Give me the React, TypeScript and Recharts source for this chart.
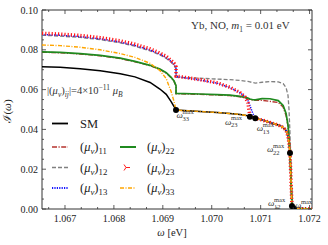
import React from "react";
import {
  ComposedChart,
  Line,
  Scatter,
  XAxis,
  YAxis,
  ReferenceArea
} from "recharts";

const SERIF = "'Liberation Serif', 'DejaVu Serif', serif";

// photon energy grid (eV); repeated entry = step at the omega_33 threshold
const OMEGA = [
  1.06653, 1.0669, 1.06731, 1.06772, 1.06813, 1.06843, 1.06874, 1.06894, 1.06907, 1.06917,
  1.06923, 1.06927, 1.06927, 1.06976, 1.07011, 1.07037, 1.07058, 1.07068, 1.07074, 1.07078,
  1.07084, 1.07089, 1.07103, 1.07119, 1.07136, 1.07146, 1.07152, 1.07156, 1.07158, 1.0716,
  1.07162, 1.07164, 1.07166, 1.07168, 1.07205
];

const SM = [
  0.0715, 0.0712, 0.0705, 0.0695, 0.068, 0.0664, 0.0636, 0.0603, 0.0576, 0.054,
  0.0515, 0.0497, 0.0497, 0.049, 0.0485, 0.048, 0.0475, 0.0471, 0.0468, 0.0464,
  0.046, 0.0456, 0.0447, 0.0435, 0.0422, 0.041, 0.0395, 0.0365, 0.033, 0.0281,
  0.015, 0.0015, 0.0008, 0.0003, 0
];
const MU11 = [
  0.0788, 0.0785, 0.0779, 0.077, 0.0756, 0.074, 0.072, 0.0701, 0.0683, 0.066,
  0.0641, 0.0618, 0.0579, 0.0576, 0.0573, 0.057, 0.0564, 0.0559, 0.0555, 0.0551,
  0.0547, 0.0546, 0.0546, 0.0541, 0.0535, 0.0512, 0.047, 0.0415, 0.0355, 0.0281,
  0.017, 0.006, 0.002, 0.0005, 0
];
const MU12 = [
  0.0873, 0.0869, 0.0862, 0.0851, 0.0835, 0.0818, 0.0795, 0.0774, 0.0757, 0.0737,
  0.0722, 0.0705, 0.0662, 0.0657, 0.0653, 0.065, 0.0646, 0.0643, 0.0641, 0.0639,
  0.0635, 0.0633, 0.0637, 0.064, 0.0639, 0.063, 0.061, 0.057, 0.05, 0.038,
  0.02, 0.003, 0.001, 0.0003, 0
];
const MU13 = [
  0.0877, 0.0873, 0.0866, 0.0855, 0.0839, 0.0822, 0.0799, 0.0778, 0.0761, 0.0741,
  0.0726, 0.0709, 0.0666, 0.0648, 0.0632, 0.061, 0.0584, 0.0566, 0.0545, 0.052,
  0.048, 0.0456, 0.0447, 0.0435, 0.0422, 0.041, 0.0395, 0.0365, 0.033, 0.0281,
  0.015, 0.0015, 0.0008, 0.0003, 0
];
const MU22 = [
  0.079, 0.0787, 0.0781, 0.0772, 0.0758, 0.0742, 0.0722, 0.0703, 0.0685, 0.0662,
  0.0643, 0.062, 0.0581, 0.0578, 0.0575, 0.0572, 0.0566, 0.0561, 0.0557, 0.0553,
  0.0549, 0.0548, 0.0555, 0.0554, 0.0545, 0.052, 0.048, 0.042, 0.036, 0.0281,
  0.015, 0.0015, 0.0008, 0.0003, 0
];
const MU23 = [
  0.0883, 0.0879, 0.0872, 0.0861, 0.0845, 0.0828, 0.0805, 0.0784, 0.0767, 0.0747,
  0.0732, 0.0715, 0.0668, 0.065, 0.0634, 0.0612, 0.0585, 0.0563, 0.0535, 0.0464,
  0.046, 0.0456, 0.0447, 0.0435, 0.0422, 0.041, 0.0395, 0.0365, 0.033, 0.0281,
  0.015, 0.0015, 0.0008, 0.0003, 0
];
const MU33 = [
  0.0824, 0.0821, 0.0813, 0.08, 0.0781, 0.0762, 0.0732, 0.0696, 0.0655, 0.059,
  0.054, 0.0497, 0.0497, 0.049, 0.0485, 0.048, 0.0475, 0.0471, 0.0468, 0.0464,
  0.046, 0.0456, 0.0447, 0.0435, 0.0422, 0.041, 0.0395, 0.0365, 0.033, 0.0281,
  0.015, 0.0015, 0.0008, 0.0003, 0
];

// thresholds omega_ij^max on the SM curve
const THRESH_NAMES = ["33", "23", "13", "22", "12", "11"];
const THRESH_W = [1.06927, 1.07078, 1.07089, 1.0716, 1.07164, 1.07168];
const THRESH_I = [0.0497, 0.0464, 0.0456, 0.0281, 0.0015, 0.0003];

const X_MAJOR = [1.067, 1.068, 1.069, 1.07, 1.071, 1.072];
const Y_MAJOR = [0, 0.02, 0.04, 0.06, 0.08, 0.1];
const X_DOMAIN = [1.06653, 1.07205];
const Y_DOMAIN = [0, 0.1];

// label offsets (px) from each threshold dot
const LABEL_OFFSET: Record<string, [number, number]> = {
  "33": [0.5, 8],
  "23": [-25, 8],
  "13": [1.5, 13],
  "22": [-23, -1],
  "12": [-24, 0],
  "11": [1, 0]
};

const rows = OMEGA.map((w, i) => ({
  w,
  sm: SM[i],
  m11: MU11[i],
  m12: MU12[i],
  m13: MU13[i],
  m22: MU22[i],
  m23: MU23[i],
  m33: MU33[i]
}));

const threshRows = THRESH_W.map((w, i) => ({ w, v: THRESH_I[i], name: THRESH_NAMES[i] }));

const xTicks: number[] = [];
for (let k = -1; k <= 15; k++) xTicks.push(1.067 + k / 3000);
const yTicks: number[] = [];
for (let k = 0; k <= 20; k++) yTicks.push(k * 0.005);

const isMajor = (v: number, list: number[]) => list.some((m) => Math.abs(m - v) < 1e-7);

const PLOT = { left: 42, right: 312, top: 10, bottom: 209 };
const AX = "#333";

const XTick = (props: any) => {
  const { x, payload } = props;
  const major = isMajor(payload.value, X_MAJOR);
  const len = major ? 4 : 2;
  return (
    <g>
      <line x1={x} x2={x} y1={PLOT.bottom} y2={PLOT.bottom - len} stroke={AX} strokeWidth={0.8} />
      <line x1={x} x2={x} y1={PLOT.top} y2={PLOT.top + len} stroke={AX} strokeWidth={0.8} />
      {major && (
        <text x={x} y={PLOT.bottom + 13} textAnchor="middle" fontSize={10} fontFamily={SERIF} fill="#222">
          {payload.value.toFixed(3)}
        </text>
      )}
    </g>
  );
};

const YTick = (props: any) => {
  const { y, payload } = props;
  const major = isMajor(payload.value, Y_MAJOR);
  const len = major ? 4 : 2;
  return (
    <g>
      <line x1={PLOT.left} x2={PLOT.left + len} y1={y} y2={y} stroke={AX} strokeWidth={0.8} />
      <line x1={PLOT.right} x2={PLOT.right - len} y1={y} y2={y} stroke={AX} strokeWidth={0.8} />
      {major && (
        <text x={PLOT.left - 4} y={y + 3.5} textAnchor="end" fontSize={10} fontFamily={SERIF} fill="#222">
          {payload.value.toFixed(2)}
        </text>
      )}
    </g>
  );
};

const ThreshDot = (props: any) => {
  const { cx, cy, payload } = props;
  const [dx, dy] = LABEL_OFFSET[payload.name];
  const tx = cx + dx;
  const ty = cy + dy;
  return (
    <g>
      <circle cx={cx} cy={cy} r={3} fill="#000" />
      <text x={tx} y={ty} fontSize={9} fontStyle="italic" fontFamily={SERIF} fill="#333">ω</text>
      <text x={tx + 6} y={ty - 4.5} fontSize={6.5} fontFamily={SERIF} fill="#333">max</text>
      <text x={tx + 6} y={ty + 2.5} fontSize={6.5} fontFamily={SERIF} fill="#333">{payload.name}</text>
    </g>
  );
};

const SERIES = [
  { key: "sm", label: "SM", color: "#000", width: 1.5, dash: undefined as string | undefined },
  { key: "m11", label: "11", color: "#b5332e", width: 1.4, dash: "5 1.5 1.2 1.5" },
  { key: "m12", label: "12", color: "#808080", width: 1.3, dash: "4 2" },
  { key: "m13", label: "13", color: "#1414ff", width: 1.5, dash: "1.2 1.2" },
  { key: "m22", label: "22", color: "#1f8a1f", width: 1.7, dash: undefined },
  { key: "m23", label: "23", color: "#ff1a1a", width: 3.5, dash: "1.2 2" },
  { key: "m33", label: "33", color: "#ffa500", width: 1.4, dash: "4 1.5 1 1.5" }
];

const LEGEND_POS: Record<string, [number, number]> = {
  sm: [0, 0],
  m11: [0, 1],
  m12: [0, 2],
  m13: [0, 3],
  m22: [1, 1],
  m23: [1, 2],
  m33: [1, 3]
};
const ROW_Y = [123.5, 147, 167.5, 188];
const COL_LINE = [[52, 68], [120, 136]];
const COL_TEXT = [80, 147];

const MuLabel = ({ x, y, sub, size }: { x: number; y: number; sub: string; size: number }) => (
  <text x={x} y={y} fontSize={size} fontFamily={SERIF} fill="#222">
    (<tspan fontStyle="italic">μ</tspan>
    <tspan fontStyle="italic" fontSize={size * 0.7} dy={size * 0.25}>ν</tspan>
    <tspan dy={-size * 0.25}>)</tspan>
    <tspan fontSize={size * 0.7} dy={size * 0.25}>{sub}</tspan>
  </text>
);

const Overlay = () => (
  <svg width={328} height={245} style={{ position: "absolute", left: 0, top: 0, pointerEvents: "none" }}>
    <text x={191} y={29} fontSize={11} fontFamily={SERIF} fill="#333">
      Yb, NO, <tspan fontStyle="italic">m</tspan>
      <tspan fontSize={7.5} dy={2.5}>1</tspan>
      <tspan dy={-2.5}> = 0.01 eV</tspan>
    </text>
    <text x={47} y={94} fontSize={10.5} fontFamily={SERIF} fill="#333">
      |(<tspan fontStyle="italic">μ</tspan>
      <tspan fontStyle="italic" fontSize={7.5} dy={2.5}>ν</tspan>
      <tspan dy={-2.5}>)</tspan>
      <tspan fontStyle="italic" fontSize={7.5} dy={2.5}>ij</tspan>
      <tspan dy={-2.5}>|=4×10</tspan>
      <tspan fontSize={7.5} dy={-4}>−11</tspan>
      <tspan fontStyle="italic" dy={4}> μ</tspan>
      <tspan fontStyle="italic" fontSize={7.5} dy={2.5}>B</tspan>
    </text>
    {SERIES.map((s) => {
      const [c, r] = LEGEND_POS[s.key];
      const y = ROW_Y[r];
      const [x1, x2] = COL_LINE[c];
      return (
        <g key={s.key}>
          {s.key === "m23" ? (
            <g stroke={s.color} strokeWidth={1}>
              <line x1={x1 + 6} y1={y} x2={x1 + 10} y2={y} />
              <line x1={x1 + 6} y1={y} x2={x1 + 4} y2={y - 3} />
              <line x1={x1 + 6} y1={y} x2={x1 + 4} y2={y + 3} />
            </g>
          ) : (
            <line x1={x1} x2={x2} y1={y} y2={y} stroke={s.color} strokeWidth={s.width + 0.3} strokeDasharray={s.dash} />
          )}
          {s.key === "sm" ? (
            <text x={COL_TEXT[c]} y={y + 4.5} fontSize={12.5} fontFamily={SERIF} fill="#222">SM</text>
          ) : (
            <MuLabel x={COL_TEXT[c]} y={y + 4} sub={s.label} size={12.5} />
          )}
        </g>
      );
    })}
    <text
      transform="translate(11,111) rotate(-90)"
      textAnchor="middle"
      fontSize={11}
      fontFamily={SERIF}
      fill="#222"
    >
      ℐ(<tspan fontStyle="italic">ω</tspan>)
    </text>
    <text x={172} y={236} textAnchor="middle" fontSize={10.5} fontFamily={SERIF} fill="#222">
      <tspan fontStyle="italic">ω</tspan> [eV]
    </text>
  </svg>
);

export default function App() {
  return (
    <div style={{ position: "absolute", left: 0, top: 0, width: 328, height: 245, background: "#fff" }}>
      <ComposedChart
        width={328}
        height={245}
        data={rows}
        margin={{ top: 10, right: 16, bottom: 0, left: 0 }}
      >
        <XAxis
          type="number"
          dataKey="w"
          domain={X_DOMAIN}
          ticks={xTicks}
          interval={0}
          allowDataOverflow
          axisLine={false}
          tickLine={false}
          tickSize={0}
          tickMargin={0}
          height={36}
          tick={(p: any) => <XTick {...p} />}
        />
        <YAxis
          type="number"
          domain={Y_DOMAIN}
          ticks={yTicks}
          interval={0}
          allowDataOverflow
          axisLine={false}
          tickLine={false}
          tickSize={0}
          tickMargin={0}
          width={42}
          tick={(p: any) => <YTick {...p} />}
        />
        {SERIES.map((s) => (
          <Line
            key={s.key}
            type="linear"
            dataKey={s.key}
            stroke={s.color}
            strokeWidth={s.width}
            strokeDasharray={s.dash}
            dot={false}
            activeDot={false}
            isAnimationActive={false}
          />
        ))}
        <Scatter data={threshRows} dataKey="v" shape={(p: any) => <ThreshDot {...p} />} isAnimationActive={false} />
        <ReferenceArea
          x1={X_DOMAIN[0]}
          x2={X_DOMAIN[1]}
          y1={Y_DOMAIN[0]}
          y2={Y_DOMAIN[1]}
          fill="none"
          stroke={AX}
          strokeWidth={1}
          ifOverflow="visible"
        />
      </ComposedChart>
      <Overlay />
    </div>
  );
}
